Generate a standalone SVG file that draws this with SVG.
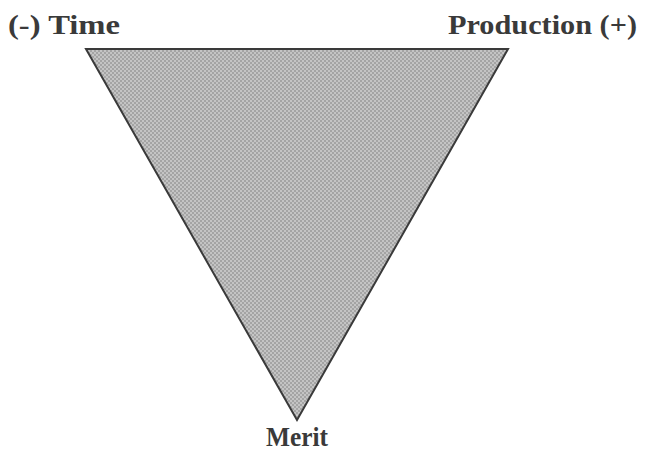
<svg xmlns="http://www.w3.org/2000/svg" width="650" height="453" viewBox="0 0 650 453">
<style>
.lbl{font-family:"Liberation Serif","Times New Roman",serif;font-weight:bold;font-size:27px;fill:#3a3a3a}
</style>
<defs>
<pattern id="chk" width="4" height="4" patternUnits="userSpaceOnUse">
<rect width="4" height="4" fill="#c4c4c4"/>
<rect width="2" height="2" fill="#a4a4a4"/>
<rect x="2" y="2" width="2" height="2" fill="#a4a4a4"/>
</pattern>
</defs>
<rect width="650" height="453" fill="#ffffff"/>
<g id="triangle">
<polygon points="86,49 508,49 297,420" fill="url(#chk)" stroke="#3a3a3a" stroke-width="2" stroke-linejoin="miter"/>
</g>
<g id="time"><text class="lbl" x="8" y="34" textLength="112" lengthAdjust="spacingAndGlyphs">(-) Time</text></g>
<g id="production"><text class="lbl" x="448" y="34" textLength="189" lengthAdjust="spacingAndGlyphs">Production (+)</text></g>
<g id="merit"><text class="lbl" x="266" y="446" textLength="62" lengthAdjust="spacingAndGlyphs">Merit</text></g>
</svg>
